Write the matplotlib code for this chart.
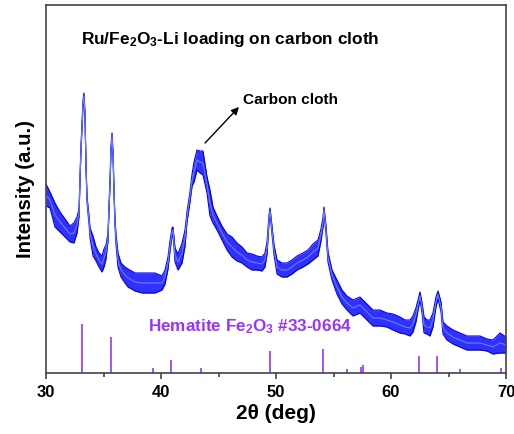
import matplotlib
matplotlib.use("Agg")
import matplotlib.pyplot as plt
import numpy as np

plt.rcParams['font.family'] = ['Liberation Sans', 'DejaVu Sans']
plt.rcParams['font.weight'] = 'bold'
plt.rcParams['mathtext.fontset'] = 'custom'
plt.rcParams['mathtext.rm'] = 'Liberation Sans:bold'
plt.rcParams['mathtext.bf'] = 'Liberation Sans:bold'
plt.rcParams['mathtext.it'] = 'Liberation Sans:bold'

# XRD pattern (2theta, intensity in a.u.)
two_theta = [30.00, 30.35, 30.78, 31.22, 31.65, 32.09, 32.43, 32.70, 32.87, 32.96,
             33.04, 33.13, 33.22, 33.30, 33.39, 33.48, 33.57, 33.74, 33.83, 34.09,
             34.35, 34.61, 34.87, 35.04, 35.22, 35.39, 35.48, 35.57, 35.65, 35.74,
             35.83, 35.91, 36.00, 36.09, 36.26, 36.52, 36.87, 37.13, 37.74, 38.35,
             38.87, 39.48, 40.09, 40.35, 40.61, 40.78, 40.96, 41.04, 41.22, 41.48,
             41.83, 42.09, 42.26, 42.52, 42.70, 42.87, 43.13, 43.39, 43.65, 44.00,
             44.26, 44.52, 44.87, 45.30, 45.74, 46.17, 46.61, 47.04, 47.48, 47.91,
             48.35, 48.78, 49.04, 49.22, 49.39, 49.48, 49.65, 49.83, 50.09, 50.52,
             50.96, 51.39, 51.83, 52.35, 52.78, 53.22, 53.65, 53.91, 54.09, 54.17,
             54.35, 54.52, 54.87, 55.30, 55.74, 56.17, 56.70, 57.30, 57.91, 58.43,
             59.04, 59.65, 60.17, 60.78, 61.22, 61.65, 61.91, 62.17, 62.35, 62.52,
             62.70, 62.87, 63.13, 63.39, 63.65, 63.91, 64.09, 64.35, 64.52, 64.87,
             65.39, 66.00, 66.61, 67.13, 67.74, 68.35, 68.87, 69.48, 70.00]
intensity = [178, 173, 158, 151, 145, 139, 140, 148, 160, 196,
             224, 248, 270, 277, 257, 206, 173, 153, 140, 127,
             119, 113, 109, 115, 121, 136, 166, 191, 224, 237,
             218, 183, 150, 133, 113, 103, 98, 95, 91, 90,
             90, 90, 90, 96, 110, 127, 141, 143, 118, 111,
             120, 135, 156, 176, 193, 201, 213, 211, 210, 188,
             170, 158, 150, 140, 131, 126, 121, 118, 113, 111,
             110, 109, 113, 125, 154, 162, 143, 123, 106, 103,
             103, 106, 110, 113, 116, 121, 125, 138, 151, 163,
             143, 116, 98, 86, 76, 70, 65, 68, 61, 55,
             55, 53, 51, 48, 46, 45, 49, 58, 68, 77,
             65, 48, 46, 45, 53, 71, 78, 66, 45, 40,
             36, 33, 30, 30, 30, 28, 26, 30, 28]
noise_band = [11, 8, 12, 10, 9, 8, 10, 8, 4, 3,
              3, 3, 3, 3, 3, 3, 3, 4, 5, 10,
              7, 7, 8, 9, 7, 4, 3, 3, 3, 3,
              3, 3, 4, 5, 7, 7, 8, 9, 9, 10,
              10, 10, 7, 7, 6, 5, 4, 3, 7, 8,
              10, 8, 5, 5, 6, 10, 10, 11, 12, 8,
              13, 8, 7, 7, 8, 10, 9, 8, 7, 8,
              7, 7, 7, 6, 4, 3, 4, 5, 7, 7,
              7, 7, 7, 7, 7, 8, 8, 6, 5, 3,
              4, 5, 5, 7, 7, 7, 8, 8, 8, 8,
              8, 7, 8, 8, 7, 8, 8, 7, 5, 4,
              5, 8, 7, 8, 7, 5, 4, 5, 6, 7,
              7, 7, 7, 7, 7, 6, 7, 10, 8]

# Hematite Fe2O3 reference (JCPDS 33-0664)
ref_pos = [33.15, 35.61, 39.28, 40.85, 43.52, 49.48, 54.09, 56.15, 57.43, 57.59,
           62.45, 64.03, 66.03, 69.60]
ref_height = [49, 36, 5, 13, 5, 22, 24, 4, 6, 8, 17, 17, 4, 5]

x_ticks = [30, 40, 50, 60, 70]

fig = plt.figure(figsize=(5.14, 4.34), dpi=100)
ax = fig.add_axes([46 / 514, 61 / 434, 460 / 514, 368 / 434])

tt = np.array(two_theta)
ii = np.array(intensity)
bb = np.array(noise_band)
ax.fill_between(tt, ii - bb, ii + bb, color='#1a1aff', lw=0, alpha=0.9)
ax.plot(tt, ii + bb, color='#0000ee', lw=0.8)
ax.plot(tt, ii - bb, color='#0000ee', lw=0.8)
ax.plot(tt, ii, color='#6a7cff', lw=0.8)

ax.vlines(ref_pos, 0, ref_height, color='#9933ff', lw=1.2)

ax.set_xlim(30, 70)
ax.set_ylim(0, 368)
ax.set_xticks(x_ticks)
ax.set_xticks([35, 45, 55, 65], minor=True)
ax.set_yticks([])
ax.tick_params(axis='x', which='major', direction='out', length=4.5, width=1.1,
               labelsize=12, pad=4, colors='#333333', labelcolor='black')
ax.tick_params(axis='x', which='minor', direction='out', length=3, width=1.1,
               colors='#333333')
for lab in ax.get_xticklabels():
    lab.set_fontweight('bold')
for sp in ax.spines.values():
    sp.set_color('#444444')
    sp.set_linewidth(1.2)

ax.set_xlabel(r'2θ (deg)', fontsize=15, fontweight='bold', labelpad=3)
ax.set_ylabel('Intensity (a.u.)', fontsize=14.7, fontweight='bold', labelpad=8)

ax.text(0.076, 0.905, r'Ru/Fe$_\mathbf{2}$O$_\mathbf{3}$-Li loading on carbon cloth',
        transform=ax.transAxes, ha='left', va='center', fontsize=12.4, fontweight='bold')
ax.text(0.428, 0.742, 'Carbon cloth', transform=ax.transAxes, ha='left', va='center',
        fontsize=11.1, fontweight='bold')
ax.annotate('', xy=(46.78, 266), xytext=(43.83, 230),
            arrowprops=dict(arrowstyle='-|>', color='black', lw=1.0, mutation_scale=11,
                            shrinkA=0, shrinkB=0))
ax.text(0.222, 0.125, r'Hematite Fe$_\mathbf{2}$O$_\mathbf{3}$ #33-0664',
        transform=ax.transAxes, ha='left', va='center', fontsize=12.3,
        fontweight='bold', color='#9933ff')

fig.savefig('out.png', dpi=100)
